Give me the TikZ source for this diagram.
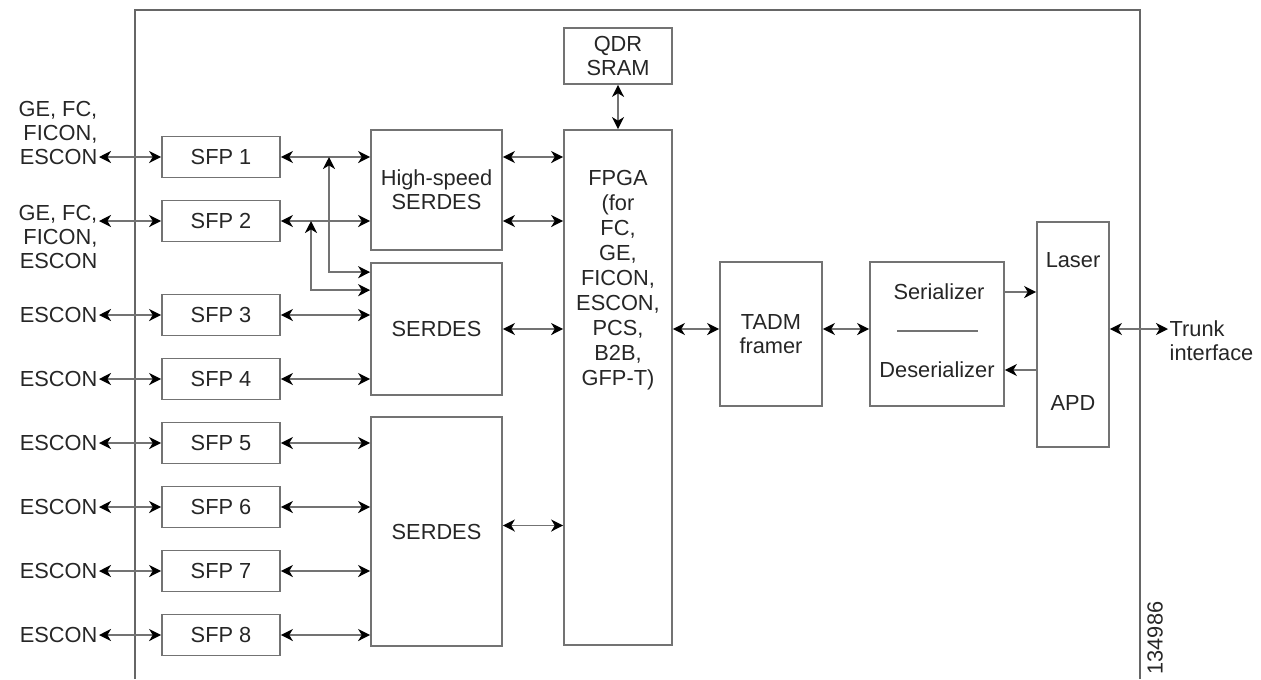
\documentclass[tikz,border=0pt]{standalone}
\usepackage{fontspec}
\setmainfont{Liberation Sans}
\usetikzlibrary{arrows.meta}

\tikzset{
  blk/.style={draw=black!55, line width=1.2pt, rectangle, inner sep=0pt, align=center},
  sfpbox/.style={blk, minimum width=2.95cm, minimum height=1.03cm},
  link/.style={draw=black!55, line width=1.3pt, {Stealth[black, length=0.3cm, width=0.3cm, inset=0.09cm]}-{Stealth[black, length=0.3cm, width=0.3cm, inset=0.09cm]}},
  fwd/.style={draw=black!55, line width=1.3pt, -{Stealth[black, length=0.3cm, width=0.3cm, inset=0.09cm]}},
  lbl/.style={inner sep=1pt, align=right, anchor=east},
}

\begin{document}
\begin{tikzpicture}[x=0.025cm, y=-0.025cm, every node/.style={font=\fontsize{15.5}{17}\selectfont, text=black!85}]
\useasboundingbox (0,0) rectangle (1261,679);

% Card outline (open at the bottom)
\draw[black!60, line width=1.2pt] (135,679) -- (135,10) -- (1140,10) -- (1140,679);

% Client side labels
\node[lbl] (ge1) at (99,133) {GE, FC,\\FICON,\\ESCON};
\node[lbl] (ge2) at (99,237) {GE, FC,\\FICON,\\ESCON};
\node[lbl] (es3) at (99,315) {ESCON};
\node[lbl] (es4) at (99,379) {ESCON};
\node[lbl] (es5) at (99,443) {ESCON};
\node[lbl] (es6) at (99,507) {ESCON};
\node[lbl] (es7) at (99,571) {ESCON};
\node[lbl] (es8) at (99,635) {ESCON};

% SFP modules
\node[sfpbox] (sfp1) at (221,157) {SFP 1};
\node[sfpbox] (sfp2) at (221,221) {SFP 2};
\node[sfpbox] (sfp3) at (221,315) {SFP 3};
\node[sfpbox] (sfp4) at (221,379) {SFP 4};
\node[sfpbox] (sfp5) at (221,443) {SFP 5};
\node[sfpbox] (sfp6) at (221,507) {SFP 6};
\node[sfpbox] (sfp7) at (221,571) {SFP 7};
\node[sfpbox] (sfp8) at (221,635) {SFP 8};

% SERDES blocks
\node[blk, minimum width=3.275cm, minimum height=3cm] (hsser) at (436.5,190) {High-speed\\SERDES};
\node[blk, minimum width=3.275cm, minimum height=3.3cm] (sera) at (436.5,329) {SERDES};
\node[blk, minimum width=3.275cm, minimum height=5.725cm] (serb) at (436.5,531.5) {SERDES};

% FPGA and memory
\node[blk, minimum width=2.7cm, minimum height=1.4cm] (qdr) at (618,56) {QDR\\SRAM};
\node[blk, minimum width=2.7cm, minimum height=12.875cm] (fpga) at (618,387.5) {};
\node[align=center, font=\fontsize{15.5}{17.8}\selectfont] (fpgatxt) at (618,280) {FPGA\\(for\\FC,\\GE,\\FICON,\\ESCON,\\PCS,\\B2B,\\GFP-T)};

% Trunk side
\node[blk, minimum width=2.55cm, minimum height=3.6cm] (tadm) at (771,334) {TADM\\framer};
\node[blk, minimum width=3.35cm, minimum height=3.6cm] (serdes) at (937,334) {};
\node (serl) at (939,292) {Serializer};
\node (desl) at (937,370) {Deserializer};
\draw[black!55, line width=1pt] (897,331) -- (978,331);
\node[blk, minimum width=1.8cm, minimum height=5.625cm] (laser) at (1073,334.5) {};
\node (lasl) at (1073,260) {Laser};
\node (apdl) at (1073,403) {APD};
\node[anchor=west, align=left, inner sep=1pt] (trunk) at (1168,341) {Trunk\\interface};

% Part number
\node[rotate=90] (partno) at (1155,638) {134986};

% Client links
\draw[link] (ge1.east |- sfp1) -- (sfp1);
\draw[link] (ge2.east |- sfp2) -- (sfp2);
\draw[link] (es3) -- (sfp3);
\draw[link] (es4) -- (sfp4);
\draw[link] (es5) -- (sfp5);
\draw[link] (es6) -- (sfp6);
\draw[link] (es7) -- (sfp7);
\draw[link] (es8) -- (sfp8);

% SFP to SERDES
\draw[link] (sfp1) -- (sfp1 -| hsser.west);
\draw[link] (sfp2) -- (sfp2 -| hsser.west);
\coordinate (j1) at (329,157);
\coordinate (j2) at (311,221);
\draw[link] (j1) |- ([yshift=-0.25cm]sera.north west);
\draw[link] (j2) |- ([yshift=-0.7cm]sera.north west);
\draw[link] (sfp3) -- (sfp3 -| sera.west);
\draw[link] (sfp4) -- (sfp4 -| sera.west);
\draw[link] (sfp5) -- (sfp5 -| serb.west);
\draw[link] (sfp6) -- (sfp6 -| serb.west);
\draw[link] (sfp7) -- (sfp7 -| serb.west);
\draw[link] (sfp8) -- (sfp8 -| serb.west);

% SERDES to FPGA
\draw[link] (hsser.east |- sfp1) -- (sfp1 -| fpga.west);
\draw[link] (hsser.east |- sfp2) -- (sfp2 -| fpga.west);
\draw[link] (sera) -- (sera -| fpga.west);
\draw[link] ([yshift=0.15cm]serb.east) -- ([yshift=0.15cm]serb.east -| fpga.west);
\draw[link] (qdr) -- (fpga);

% FPGA to trunk
\draw[link] (fpga.east |- sera) -- (tadm.west |- sera);
\draw[link] (tadm.east |- sera) -- (serdes.west |- sera);
\draw[fwd] (serdes.east |- serl) -- (laser.west |- serl);
\draw[fwd] (laser.west |- desl) -- (serdes.east |- desl);
\draw[link] (laser.east |- sera) -- (trunk.west |- sera);
\end{tikzpicture}
\end{document}
